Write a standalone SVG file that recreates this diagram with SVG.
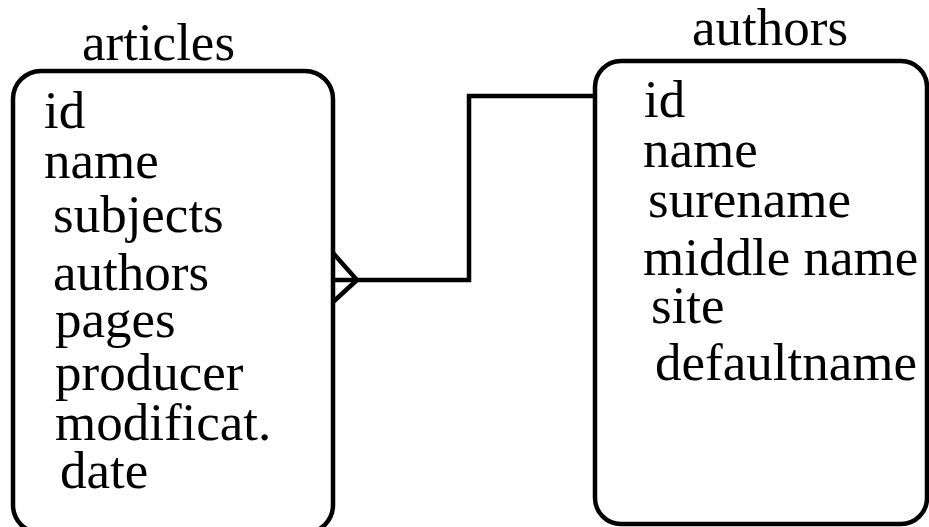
<svg xmlns="http://www.w3.org/2000/svg" width="929" height="527" viewBox="0 0 929 527">
<style>
.box{fill:#fff;stroke:#000;stroke-width:4.5}
.t{font-family:"Liberation Serif","Times New Roman",serif;font-size:53px;fill:#000}
.c{fill:none;stroke:#000;stroke-width:4.5}
</style>
<rect width="929" height="527" fill="#fff"/>
<g id="articles">
<rect class="box" x="13" y="71" width="320" height="462" rx="28" ry="28"/>
<text class="t" x="82" y="60">articles</text>
<text class="t" x="44" y="128">id</text>
<text class="t" x="44" y="178">name</text>
<text class="t" x="53" y="232">subjects</text>
<text class="t" x="53" y="290">authors</text>
<text class="t" x="55" y="337">pages</text>
<text class="t" x="55" y="390">producer</text>
<text class="t" x="55" y="440">modificat.</text>
<text class="t" x="60" y="488">date</text>
</g>
<g id="authors">
<rect class="box" x="595" y="61" width="332" height="463" rx="26" ry="26"/>
<text class="t" x="692" y="45">authors</text>
<text class="t" x="644" y="117">id</text>
<text class="t" x="643" y="167">name</text>
<text class="t" x="648" y="217">surename</text>
<text class="t" x="643" y="275">middle name</text>
<text class="t" x="651" y="323">site</text>
<text class="t" x="655" y="380">defaultname</text>
</g>
<g id="connectors">
<polyline class="c" points="333,280 469,280 469,96 595,96"/>
<polyline class="c" points="333,253 357,280 333,302"/>
</g>
</svg>
